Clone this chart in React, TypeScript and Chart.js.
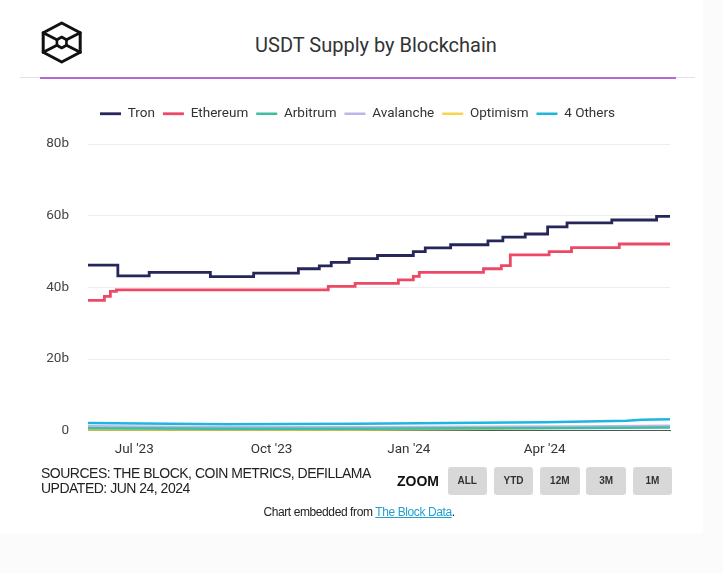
import React, { useEffect, useRef } from "react";
import { Chart, registerables } from "chart.js";

Chart.register(...registerables);

// ---- data (x = days since 1 Jul 2023, y = billions USDT) ----
const SERIES_NAMES = ["Tron", "Ethereum", "Arbitrum", "Avalanche", "Optimism", "4 Others"];
const SERIES_COLORS = ["#27265a", "#ee4867", "#3dbfa3", "#bdb5e6", "#f6d64c", "#1db6e0"];

const TRON_DAYS = [-31, -11, 10, 51, 80, 110, 124, 132, 144, 163, 187, 195, 212, 237, 247, 262, 277, 290, 320, 350, 359];
const TRON_VALUES = [46.2, 43.2, 44.2, 43.0, 44.0, 45.2, 46.0, 47.0, 48.0, 48.9, 50.0, 51.0, 51.9, 53.0, 54.0, 54.9, 56.9, 58.0, 58.8, 59.8, 59.8];

const ETH_DAYS = [-31, -20, -16, -12, 130, 148, 177, 187, 191, 234, 246, 252, 278, 293, 325, 359];
const ETH_VALUES = [36.4, 37.5, 38.9, 39.3, 40.3, 41.1, 42.1, 43.1, 44.2, 45.2, 46.1, 49.1, 50.0, 51.1, 52.1, 52.1];

const SMALL_DAYS = [-31, 60, 150, 240, 300, 359];
const ARB_VALUES = [0.7, 0.6, 0.6, 0.7, 0.8, 0.9];
const AVAX_VALUES = [1.3, 1.0, 1.0, 1.1, 1.2, 1.4];
const OP_VALUES = [0.2, 0.2, 0.3, 0.6, 0.9, 1.2];

const OTHERS_DAYS = [-31, 60, 150, 210, 275, 330, 340, 359];
const OTHERS_VALUES = [2.2, 1.8, 2.0, 2.2, 2.4, 2.8, 3.1, 3.2];

const X_MIN = -31;
const X_MAX = 359;
const X_TICK_DAYS = [0, 92, 184, 275];
const X_TICK_LABELS = ["Jul '23", "Oct '23", "Jan '24", "Apr '24"];
const Y_TICKS = [0, 20, 40, 60, 80];
const Y_TICK_LABELS = ["0", "20b", "40b", "60b", "80b"];

const ZOOM_BUTTONS = ["ALL", "YTD", "12M", "3M", "1M"];

function pts(days: number[], vals: number[]) {
  return days.map((d, i) => ({ x: d, y: vals[i] }));
}

const legendGap = {
  id: "legendGap",
  beforeInit(chart: any) {
    const lg = chart.legend;
    if (!lg) return;
    const fit = lg.fit;
    lg.fit = function () {
      fit.call(this);
      this.height += 13.5;
    };
  },
};

function LineChart() {
  const ref = useRef<HTMLCanvasElement | null>(null);
  useEffect(() => {
    if (!ref.current) return;
    Chart.defaults.font.family = "Roboto";
    const seriesData = [
      pts(TRON_DAYS, TRON_VALUES),
      pts(ETH_DAYS, ETH_VALUES),
      pts(SMALL_DAYS, ARB_VALUES),
      pts(SMALL_DAYS, AVAX_VALUES),
      pts(SMALL_DAYS, OP_VALUES),
      pts(OTHERS_DAYS, OTHERS_VALUES),
    ];
    const chart = new Chart(ref.current, {
      type: "line",
      data: {
        datasets: SERIES_NAMES.map((name, i) => ({
          label: name,
          data: seriesData[i],
          borderColor: SERIES_COLORS[i],
          backgroundColor: SERIES_COLORS[i],
          borderWidth: i < 2 ? 2.8 : 2.5,
          pointRadius: 0,
          stepped: i < 2 ? "before" : false,
          yAxisID: "y",
        })),
      },
      options: {
        responsive: false,
        animation: false,
        layout: { padding: 0 },
        plugins: {
          tooltip: { enabled: false },
          legend: {
            position: "top",
            labels: {
              usePointStyle: true,
              pointStyle: "line",
              pointStyleWidth: 21,
              padding: 8,
              color: "#333",
              font: { size: 13.5, family: "Roboto" },
            },
          },
        },
        scales: {
          x: {
            type: "linear",
            min: X_MIN,
            max: X_MAX,
            grid: { display: false, drawTicks: false },
            border: { display: true, color: "#555", width: 1 },
            afterBuildTicks: (s: any) => {
              s.ticks = X_TICK_DAYS.map((v) => ({ value: v }));
            },
            ticks: {
              autoSkip: false,
              maxRotation: 0,
              padding: 11,
              color: "#333",
              font: { size: 13.5, family: "Roboto" },
              callback: (v: any) => {
                const i = X_TICK_DAYS.indexOf(Number(v));
                return i >= 0 ? X_TICK_LABELS[i] : "";
              },
            },
          },
          y: {
            type: "linear",
            position: "left",
            min: 0,
            max: 80,
            grid: { color: "#ededed", drawTicks: false, lineWidth: 1 },
            border: { display: false },
            afterBuildTicks: (s: any) => {
              s.ticks = Y_TICKS.map((v) => ({ value: v }));
            },
            afterFit: (s: any) => {
              s.width = 88;
            },
            ticks: {
              padding: 19,
              color: "#444",
              font: { size: 13.5, family: "Roboto" },
              callback: (v: any) => {
                const i = Y_TICKS.indexOf(Number(v));
                return i >= 0 ? Y_TICK_LABELS[i] : "";
              },
            },
          },
          yR: {
            type: "linear",
            position: "right",
            display: true,
            grid: { display: false, drawTicks: false },
            border: { display: false },
            ticks: { display: false },
            afterFit: (s: any) => {
              s.width = 45;
            },
          },
        },
      },
      plugins: [legendGap],
    } as any);
    return () => chart.destroy();
  }, []);
  return (
    <canvas
      ref={ref}
      width={715}
      height={370}
      style={{ position: "absolute", left: 0, top: 99, width: 715, height: 370 }}
    />
  );
}

function Logo() {
  const cx = 61.7;
  const cy = 42.5;
  const hw = 18.5;
  const R = 19.5;
  const outer = [
    [cx, cy - R],
    [cx + hw, cy - R / 2],
    [cx + hw, cy + R / 2],
    [cx, cy + R],
    [cx - hw, cy + R / 2],
    [cx - hw, cy - R / 2],
  ];
  const r = 5.5;
  const ir = r * 0.866;
  const inner = [
    [cx, cy - r],
    [cx + ir, cy - r / 2],
    [cx + ir, cy + r / 2],
    [cx, cy + r],
    [cx - ir, cy + r / 2],
    [cx - ir, cy - r / 2],
  ];
  const p = (a: number[][]) => a.map((q) => q.join(",")).join(" ");
  return (
    <svg width={723} height={90} style={{ position: "absolute", left: 0, top: 0 }}>
      <g fill="none" stroke="#111" strokeWidth={3} strokeLinejoin="round" strokeLinecap="round">
        <polygon points={p(outer)} />
        <polygon points={p(inner)} strokeWidth={2.6} />
        <line x1={outer[1][0]} y1={outer[1][1]} x2={inner[1][0]} y2={inner[1][1]} />
        <line x1={outer[2][0]} y1={outer[2][1]} x2={inner[2][0]} y2={inner[2][1]} />
        <line x1={outer[4][0]} y1={outer[4][1]} x2={inner[4][0]} y2={inner[4][1]} />
        <line x1={outer[5][0]} y1={outer[5][1]} x2={inner[5][0]} y2={inner[5][1]} />
      </g>
    </svg>
  );
}

export default function App() {
  return (
    <div
      style={{
        position: "absolute",
        left: 0,
        top: 0,
        width: 723,
        height: 573,
        background: "#fbfbfb",
        overflow: "hidden",
      }}
    >
      <div style={{ position: "absolute", left: 0, top: 0, width: 703, height: 533, background: "#fff" }} />
      <Logo />
      <div
        style={{
          position: "absolute",
          left: 0,
          top: 33,
          width: 752,
          textAlign: "center",
          fontFamily: "Roboto",
          fontSize: 20,
          lineHeight: "24px",
          color: "#333",
        }}
      >
        USDT Supply by Blockchain
      </div>
      <div style={{ position: "absolute", left: 20, top: 77, width: 675, height: 1, background: "#eadcf2" }} />
      <div style={{ position: "absolute", left: 40, top: 76.5, width: 636, height: 2.5, background: "#b36ad6" }} />
      <LineChart />
      <div
        style={{
          position: "absolute",
          left: 41,
          top: 465.6,
          fontFamily: "'Liberation Sans', Arial, sans-serif",
          fontSize: 14,
          lineHeight: "15px",
          letterSpacing: "-0.5px",
          color: "#222",
          whiteSpace: "nowrap",
        }}
      >
        <div>SOURCES: THE BLOCK, COIN METRICS, DEFILLAMA</div>
        <div>UPDATED: JUN 24, 2024</div>
      </div>
      <div
        style={{
          position: "absolute",
          left: 397,
          top: 473.5,
          fontFamily: "'Liberation Sans', Arial, sans-serif",
          fontWeight: 700,
          fontSize: 14,
          lineHeight: "15px",
          color: "#111",
        }}
      >
        ZOOM
      </div>
      {ZOOM_BUTTONS.map((b, i) => (
        <div
          key={b}
          style={{
            position: "absolute",
            left: 447.5 + i * 46.3,
            top: 467,
            width: 39.5,
            height: 28,
            background: "#d8d8d8",
            borderRadius: 3,
            fontFamily: "'Liberation Sans', Arial, sans-serif",
            fontWeight: 700,
            fontSize: 10,
            lineHeight: "28px",
            textAlign: "center",
            color: "#333",
          }}
        >
          {b}
        </div>
      ))}
      <div
        style={{
          position: "absolute",
          left: 0,
          top: 504,
          width: 718,
          textAlign: "center",
          fontFamily: "'Liberation Sans', Arial, sans-serif",
          fontSize: 12,
          lineHeight: "16px",
          letterSpacing: "-0.4px",
          color: "#222",
        }}
      >
        Chart embedded from{" "}
        <span style={{ color: "#1f9fd2", textDecoration: "underline" }}>The Block Data</span>.
      </div>
    </div>
  );
}
